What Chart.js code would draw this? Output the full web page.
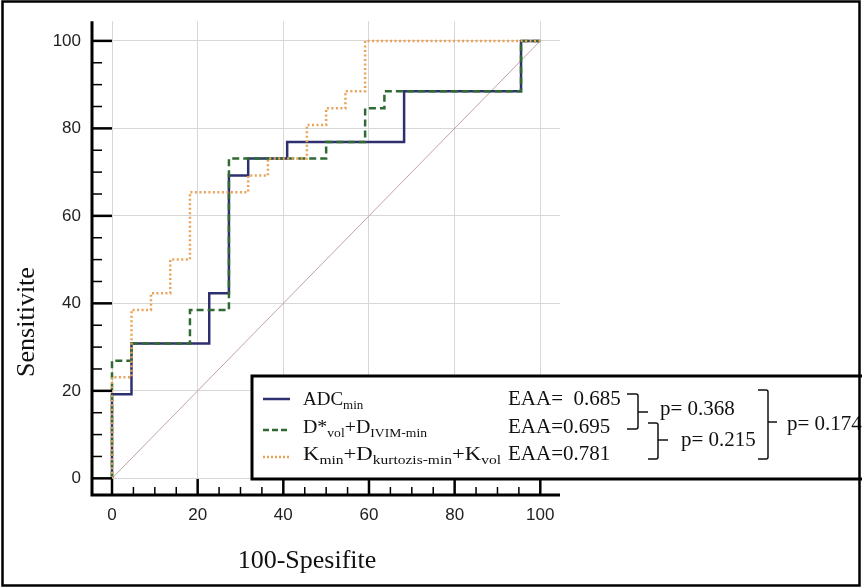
<!DOCTYPE html>
<html>
<head>
<meta charset="utf-8">
<script src="https://cdn.jsdelivr.net/npm/chart.js@4.4.1/dist/chart.umd.min.js"></script>
<style>
  html, body { margin: 0; padding: 0; background: #fff; }
  #wrap { width: 862px; height: 588px; }
</style>
</head>
<body>
<div id="wrap"><canvas id="roc" width="862" height="588"></canvas></div>
<script>
// ROC step curves: 100-Spesifite (x) against Sensitivite (y), in percent
const adcX   = [0, 0, 4.55, 4.55, 22.7, 22.7, 27.3, 27.3, 31.8, 31.8, 40.9, 40.9, 68.2, 68.2, 95.5, 95.5, 100];
const adcY   = [0, 19.2, 19.2, 30.8, 30.8, 42.3, 42.3, 69.2, 69.2, 73.1, 73.1, 76.9, 76.9, 88.5, 88.5, 100, 100];

const ivimX  = [0, 0, 4.55, 4.55, 18.2, 18.2, 27.3, 27.3, 50, 50, 59.1, 59.1, 63.6, 63.6, 95.5, 95.5, 100];
const ivimY  = [0, 26.9, 26.9, 30.8, 30.8, 38.5, 38.5, 73.1, 73.1, 76.9, 76.9, 84.6, 84.6, 88.5, 88.5, 100, 100];

const kurtX  = [0, 0, 4.55, 4.55, 9.1, 9.1, 13.6, 13.6, 18.2, 18.2, 31.8, 31.8, 36.4, 36.4, 45.5, 45.5, 50, 50, 54.5, 54.5, 59.1, 59.1, 100];
const kurtY  = [0, 23.1, 23.1, 38.5, 38.5, 42.3, 42.3, 50, 50, 65.4, 65.4, 69.2, 69.2, 73.1, 73.1, 80.8, 80.8, 84.6, 84.6, 88.5, 88.5, 100, 100];

const refX   = [0, 100];
const refY   = [0, 100];

const tickValues = [0, 5, 10, 15, 20, 25, 30, 35, 40, 45, 50, 55, 60, 65, 70, 75, 80, 85, 90, 95, 100];

// legend names as [text, subscript?] pieces
const seriesNames = [
  [['ADC', false], ['min', true]],
  [['D*', false], ['vol', true], ['+D', false], ['IVIM-min', true]],
  [['K', false], ['min', true], ['+D', false], ['kurtozis-min', true], ['+K', false], ['vol', true]]
];
const aucValues = ['0.685', '0.695', '0.781'];
const pValues = ['0.368', '0.215', '0.174'];

const xTitle = '100-Spesifite';
const yTitle = 'Sensitivite';

const NAVY = '#2e2f6e';
const GREEN = '#2f6a33';
const ORANGE = '#e9a258';
const DIAG = '#c4a3a3';

const zip = (xs, ys) => xs.map((x, i) => ({ x: x, y: ys[i] }));

const SERIF = '"Liberation Serif", "Times New Roman", serif';
const SANS = '"Liberation Sans", Arial, sans-serif';

const decorations = {
  id: 'decorations',
  beforeDraw(chart) {
    const ctx = chart.ctx;
    ctx.save();
    ctx.fillStyle = '#fff';
    ctx.fillRect(0, 0, chart.width, chart.height);
    ctx.restore();
  },
  afterDraw(chart) {
    const ctx = chart.ctx;
    const xs = chart.scales.x, ys = chart.scales.y;
    const area = chart.chartArea;
    ctx.save();

    // axis lines
    ctx.strokeStyle = '#000';
    ctx.lineWidth = 3;
    ctx.beginPath();
    ctx.moveTo(area.left, area.top);
    ctx.lineTo(area.left, area.bottom);
    ctx.lineTo(area.right, area.bottom);
    ctx.stroke();

    // inward tick marks, long at labelled values
    tickValues.forEach(v => {
      const major = v % 20 === 0;
      ctx.lineWidth = major ? 2.5 : 1.5;
      const px = xs.getPixelForValue(v);
      ctx.beginPath();
      ctx.moveTo(px, area.bottom);
      ctx.lineTo(px, area.bottom - (major ? 16 : 8));
      ctx.stroke();
      const py = ys.getPixelForValue(v);
      ctx.beginPath();
      ctx.moveTo(area.left, py);
      ctx.lineTo(area.left + (major ? 20 : 10), py);
      ctx.stroke();
    });

    // axis titles
    ctx.fillStyle = '#111';
    ctx.font = '26px ' + SERIF;
    ctx.textAlign = 'center';
    ctx.textBaseline = 'alphabetic';
    ctx.fillText(xTitle, 307, 568);
    ctx.save();
    ctx.translate(34, 322);
    ctx.rotate(-Math.PI / 2);
    ctx.font = '26px ' + SERIF;
    ctx.fillText(yTitle, 0, 0);
    ctx.restore();

    // legend box
    ctx.fillStyle = '#fff';
    ctx.fillRect(252, 376, 620, 103);
    ctx.strokeStyle = '#000';
    ctx.lineWidth = 3;
    ctx.strokeRect(252, 376, 620, 103);

    const rows = [
      { y: 405, sampleY: 399, color: NAVY, dash: [], fitTo: null, aucText: 'EAA=  ' },
      { y: 433, sampleY: 430, color: GREEN, dash: [6, 3], fitTo: 427, aucText: 'EAA=' },
      { y: 460, sampleY: 457, color: ORANGE, dash: [2, 2], fitTo: 501, aucText: 'EAA=' }
    ];
    rows.forEach((r, i) => {
      ctx.strokeStyle = r.color;
      ctx.lineWidth = 2.5;
      ctx.setLineDash(r.dash);
      ctx.beginPath();
      ctx.moveTo(263, r.sampleY);
      ctx.lineTo(290, r.sampleY);
      ctx.stroke();
      ctx.setLineDash([]);

      ctx.fillStyle = '#111';
      ctx.textAlign = 'left';
      ctx.textBaseline = 'alphabetic';
      const pieces = seriesNames[i];
      let natural = 0;
      pieces.forEach(([t, sub]) => {
        ctx.font = (sub ? '13px ' : '19px ') + SERIF;
        natural += ctx.measureText(t).width;
      });
      const k = r.fitTo ? (r.fitTo - 303) / natural : 1;
      ctx.save();
      ctx.translate(303, 0);
      ctx.scale(k, 1);
      let x = 0;
      pieces.forEach(([t, sub]) => {
        ctx.font = (sub ? '13px ' : '19px ') + SERIF;
        ctx.fillText(t, x, sub ? r.y + 4 : r.y);
        x += ctx.measureText(t).width;
      });
      ctx.restore();
      ctx.font = '21px ' + SERIF;
      ctx.fillText(r.aucText + aucValues[i], 508, r.y);
    });

    // comparison brackets
    ctx.strokeStyle = '#111';
    ctx.lineWidth = 1.5;
    const bracket = (x0, x1, top, bottom, mid, tip) => {
      ctx.beginPath();
      ctx.moveTo(x0, top);
      ctx.lineTo(x1 - 2, top);
      ctx.quadraticCurveTo(x1, top, x1, top + 2);
      ctx.lineTo(x1, bottom - 2);
      ctx.quadraticCurveTo(x1, bottom, x1 - 2, bottom);
      ctx.lineTo(x0, bottom);
      ctx.moveTo(x1, mid);
      ctx.lineTo(tip, mid);
      ctx.stroke();
    };
    bracket(627, 638, 394, 429, 412, 648);
    bracket(648, 658, 423, 459, 440, 668);
    bracket(758, 768, 390, 459, 422, 777);

    ctx.fillStyle = '#111';
    ctx.font = '21px ' + SERIF;
    ctx.fillText('p= ' + pValues[0], 660, 415);
    ctx.fillText('p= ' + pValues[1], 681, 446);
    ctx.fillText('p= ' + pValues[2], 787, 430);

    // outer frame
    ctx.strokeStyle = '#000';
    ctx.lineWidth = 2.5;
    ctx.strokeRect(2.5, 1.5, 857, 584);
    ctx.restore();
  }
};

const gridColor = c => (c.tick && c.tick.value % 20 === 0) ? '#d7d7d7' : 'rgba(0,0,0,0)';

new Chart(document.getElementById('roc'), {
  type: 'scatter',
  data: {
    datasets: [
      { label: 'ADCmin', data: zip(adcX, adcY), borderColor: NAVY, borderWidth: 2.5, order: 3 },
      { label: 'D*vol+DIVIM-min', data: zip(ivimX, ivimY), borderColor: GREEN, borderWidth: 2.5, borderDash: [7, 4], order: 2 },
      { label: 'Kmin+Dkurtozis-min+Kvol', data: zip(kurtX, kurtY), borderColor: ORANGE, borderWidth: 2.5, borderDash: [2, 2.5], order: 1 },
      { label: 'ref', data: zip(refX, refY), borderColor: DIAG, borderWidth: 1, order: 4 }
    ].map(d => Object.assign({ showLine: true, pointRadius: 0, pointHoverRadius: 0, fill: false, tension: 0 }, d))
  },
  options: {
    responsive: false,
    animation: false,
    devicePixelRatio: 1,
    layout: { padding: { left: 0, top: 12, right: 302, bottom: 0 } },
    plugins: { legend: { display: false }, tooltip: { enabled: false } },
    scales: {
      x: {
        type: 'linear',
        min: -4.67,
        max: 104.6,
        afterBuildTicks: s => { s.ticks = tickValues.map(v => ({ value: v })); },
        afterFit: s => { s.height = 93; },
        ticks: {
          autoSkip: false, maxRotation: 0, padding: 10, color: '#222',
          font: { family: SANS, size: 17 },
          callback: v => (v % 20 === 0 ? String(v) : '')
        },
        grid: { color: gridColor, lineWidth: 1, drawTicks: false },
        border: { display: false }
      },
      y: {
        type: 'linear',
        min: -3.81,
        max: 104.5,
        afterBuildTicks: s => { s.ticks = tickValues.map(v => ({ value: v })); },
        afterFit: s => { s.width = 92; },
        ticks: {
          autoSkip: false, padding: 11, color: '#222',
          font: { family: SANS, size: 17 },
          callback: v => (v % 20 === 0 ? String(v) : '')
        },
        grid: { color: gridColor, lineWidth: 1, drawTicks: false },
        border: { display: false }
      }
    }
  },
  plugins: [decorations]
});
</script>
</body>
</html>
